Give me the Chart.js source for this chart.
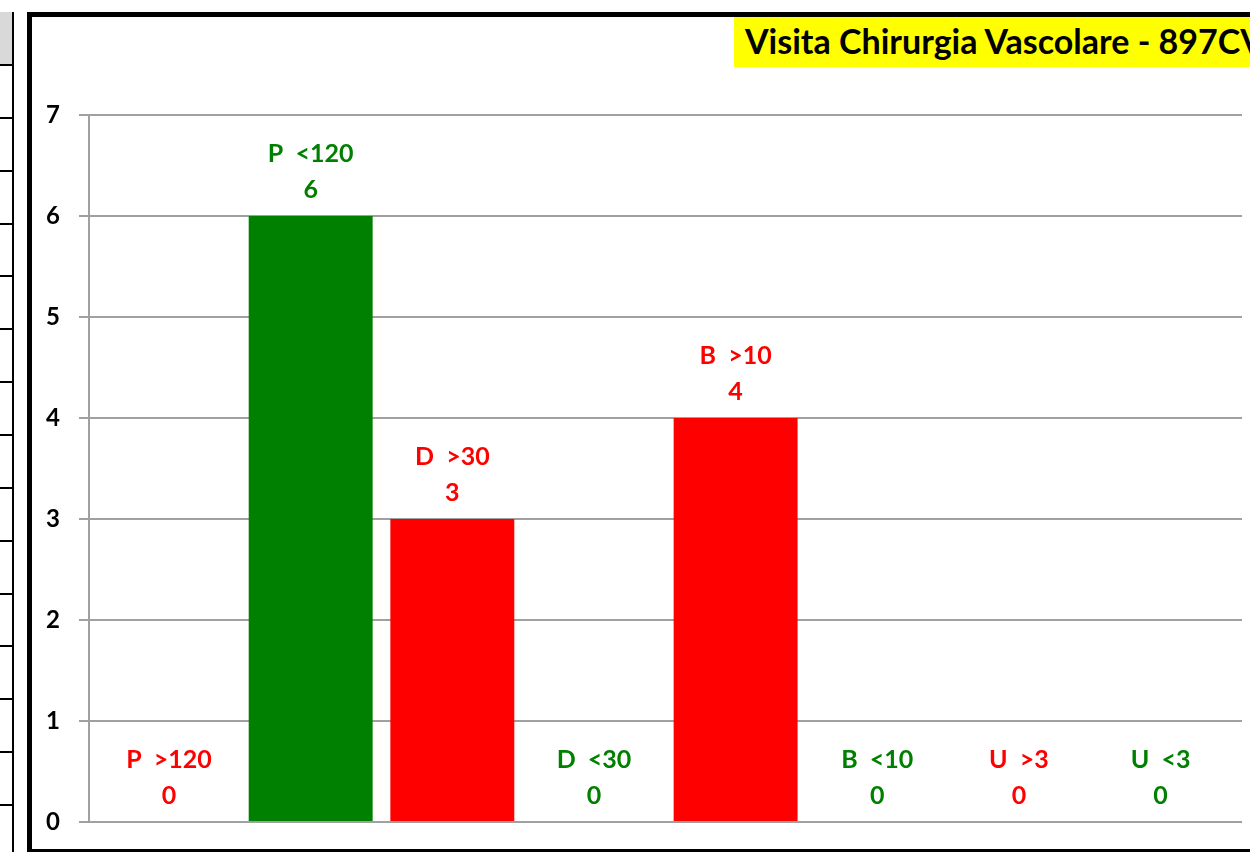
<!DOCTYPE html>
<html>
<head>
<meta charset="utf-8">
<script src="https://cdn.jsdelivr.net/npm/chart.js@4.4.0/dist/chart.umd.min.js"></script>
<style>
  html, body { margin: 0; padding: 0; background: #fff; }
  body { width: 1250px; height: 852px; overflow: hidden; position: relative; font-family: Lato, sans-serif; }
  #sheet { position: absolute; left: 0; top: 12px; width: 12px; height: 840px; border-right: 2px solid #000; }
  #sheet .head { position: absolute; left: 0; top: 0; width: 12px; height: 52px; background: #d9d9d9; }
  #sheet .row { position: absolute; left: 0; width: 12px; height: 2px; background: #000; }
  #chartWrap { position: absolute; left: 0; top: 0; width: 1250px; height: 852px; }
  #chart { display: block; }
  #frame { position: absolute; left: 27px; top: 12px; width: 1300px; height: 832px; border: 5px solid #000; pointer-events: none; }
  #title { position: absolute; left: 734px; top: 17px; width: 600px; height: 50px; background: #ffff00;
           font: bold 34px Lato, sans-serif; line-height: 47px; color: #000; white-space: nowrap; padding-left: 11px; }
</style>
</head>
<body>
<div id="sheet"><div class="head"></div></div>
<div id="chartWrap"><canvas id="chart" width="1250" height="852"></canvas></div>
<div id="frame"></div>
<div id="title">Visita Chirurgia Vascolare - 897CV</div>
<script>
// spreadsheet rows behind the chart
let sheet = document.getElementById('sheet');
for (let i = 0; i < 15; i++) {
    let r = document.createElement('div');
    r.className = 'row';
    r.style.top = (52 + i * 52.86) + 'px';
    sheet.appendChild(r);
}

const categories = ['P  >120', 'P  <120', 'D  >30', 'D  <30', 'B  >10', 'B  <10', 'U  >3', 'U  <3'];
const values = [0, 6, 3, 0, 4, 0, 0, 0];
const barColors = ['#ff0000', '#008000', '#ff0000', '#008000', '#ff0000', '#008000', '#ff0000', '#008000'];
const yTicks = [0, 1, 2, 3, 4, 5, 6, 7];

// two-line labels above each bar, same colour as the bar
const barLabels = {
    id: 'barLabels',
    afterDatasetsDraw(chart) {
        const ctx = chart.ctx;
        const meta = chart.getDatasetMeta(0);
        ctx.save();
        ctx.font = 'bold 25px Lato, sans-serif';
        ctx.textAlign = 'center';
        ctx.textBaseline = 'alphabetic';
        meta.data.forEach((bar, i) => {
            ctx.fillStyle = barColors[i];
            ctx.fillText(categories[i], bar.x, bar.y - 54);
            ctx.fillText(String(values[i]), bar.x, bar.y - 18);
        });
        ctx.restore();
    }
};

let ctx = document.getElementById('chart').getContext('2d');
let chart = new Chart(ctx, {
    type: 'bar',
    data: {
        datasets: [{
            data: values.map((v, i) => ({ x: i, y: v })),
            backgroundColor: barColors,
            borderWidth: 0,
            categoryPercentage: 1,
            barPercentage: 0.875
        }]
    },
    options: {
        responsive: false,
        animation: false,
        layout: { padding: { left: 0, right: 8, top: 115, bottom: 30 } },
        plugins: { legend: { display: false }, tooltip: { enabled: false } },
        scales: {
            x: {
                type: 'linear',
                min: -0.565,
                max: 7.575,
                offset: false,
                bounds: 'data',
                display: false,
                grid: { offset: false },
                afterDataLimits(scale) { scale.min = -0.565; scale.max = 7.575; },
                afterBuildTicks(scale) { scale.ticks = categories.map((c, i) => ({ value: i })); }
            },
            y: {
                min: 0,
                max: 7,
                afterFit(scale) { scale.width = 89; scale.paddingBottom = 0; scale.paddingTop = 0; },
                afterBuildTicks(scale) { scale.ticks = yTicks.map(v => ({ value: v })); },
                grid: { color: '#a0a0a0', lineWidth: 2, tickLength: 10, drawTicks: true },
                border: { display: true, color: '#a0a0a0', width: 2 },
                ticks: {
                    padding: 19,
                    color: '#000',
                    font: { family: 'Lato', weight: 'bold', size: 24 }
                }
            }
        }
    },
    plugins: [barLabels]
});
</script>
</body>
</html>
